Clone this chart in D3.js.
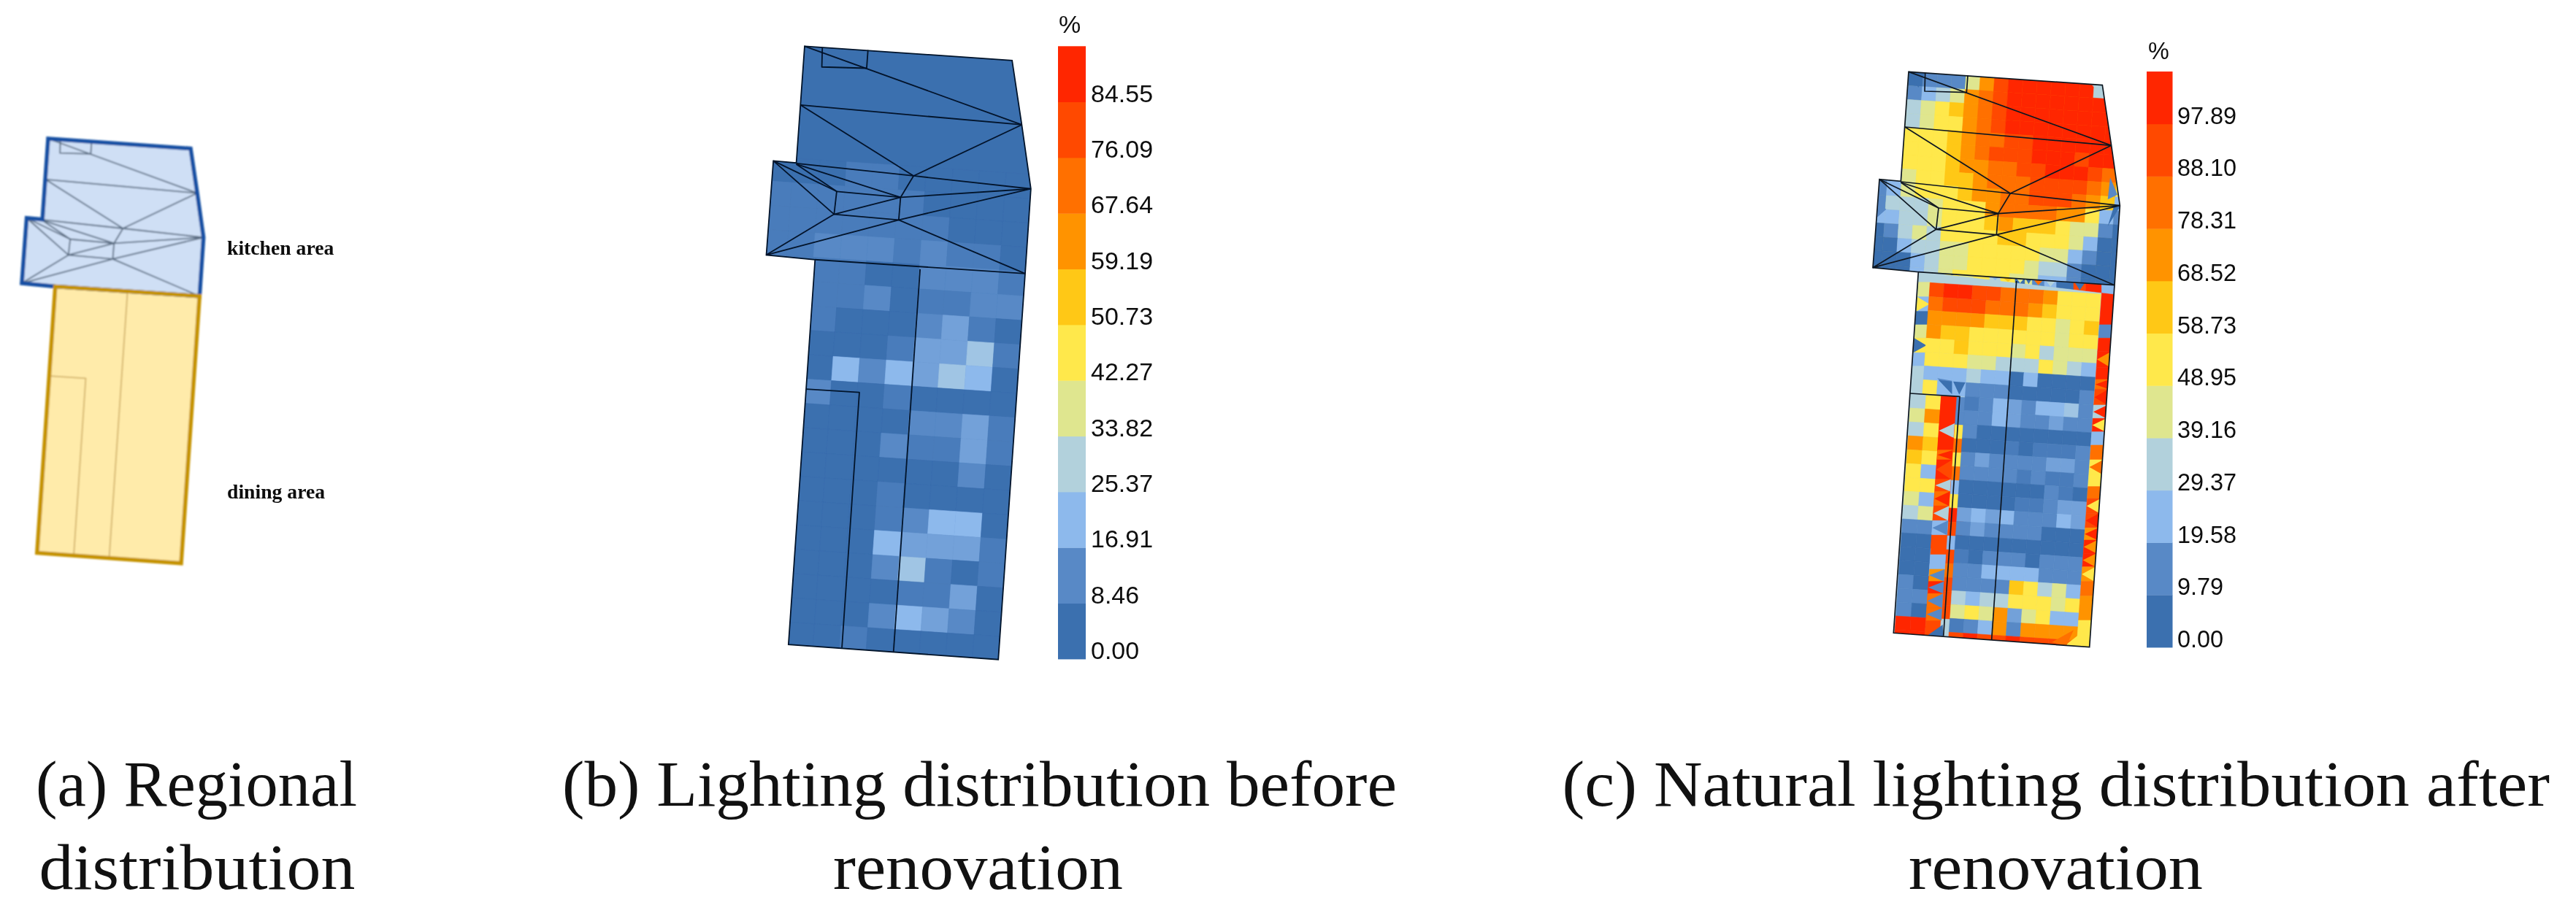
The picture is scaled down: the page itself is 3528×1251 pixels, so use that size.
<!DOCTYPE html>
<html><head><meta charset="utf-8">
<style>html,body{margin:0;padding:0;background:#fff}svg{display:block}</style>
<script src="https://cdn.jsdelivr.net/npm/d3@7/dist/d3.min.js"></script>
</head><body><svg id="c" width="3528" height="1251"></svg>
<script>
// ---- Legend data
const levelColors=["#3B6FAF","#5889C6","#8DB9EC","#B2D1DC","#DFE68F","#FFE84B","#FFC817","#FF9300","#FF6F00","#FF4800","#FF2800"];
const ticksB=["0.00","8.46","16.91","25.37","33.82","42.27","50.73","59.19","67.64","76.09","84.55"];
const ticksC=["0.00","9.79","19.58","29.37","39.16","48.95","58.73","68.52","78.31","88.10","97.89"];

// ---- Floor plan geometry, in plan units
const kitchenOutline=[[222,85],[1018,140],[1055,388],[1090,635],[1068,962],[262,908],[75,890],[102,527],[190,535]];
const diningOutline=[[262,908],[1068,962],[965,2450],[160,2392]];
const kitchenLines=[
 [[222,85],[1055,388]],[[207,312],[1055,388]],[[207,312],[640,585],[1055,388]],
 [[190,537],[640,585],[1090,635]],[[102,527],[335,733]],[[102,527],[345,645]],[[190,540],[345,645]],
 [[190,540],[590,668]],[[345,645],[590,668]],[[345,645],[335,733]],[[335,733],[590,668]],[[335,733],[583,755]],
 [[590,668],[583,755]],[[640,585],[590,668]],[[590,668],[1090,635]],[[583,755],[1090,635]],[[583,755],[1068,962]],
 [[335,733],[75,890]],[[583,755],[75,890]],
 [[290,90],[288,165],[460,170],[465,100]]
];
const diningLines=[[[665,945],[563,2420]],[[228,1407],[432,1420],[365,2405]]];

// ---- Panel c: natural lighting after renovation, level of each cell (x,y,z = half levels)
const cKitchenRows=[
"..0111479aaaaaa33.","..1234789aaaaaaaa.","..3456789aaaaaaaa.","..3455789aaaaaaaa.","..555678899aaaaaa.",
"..555678999aaa9aa.","..5556778899aaa98.","12455667888999987.","124555677889998762","133345557888877521",
"223345556766654410","013435555665554200","002334455555442100","000234455554331000","000234555544221000"];
const cDiningRows=[
"9aa998887555","899988876555","777766655456","766555555455","556555453444","555443335432","222322020000","522111000001",
"...x12y122z1","...112y11y11","...100000000","...000x0xxx1","...1y1111yy1","...1111x1xx1","...0000001x0","...0000xx1yy",
"...y2y21112y","...1y1111000","...000000000","...x01110111","...112222111","...111165342","...323355545","...4547y4522",
"...x12717777","...9a99a9998","...a9aaa9aa8"];
const cRoomRows=["35a1","47a1","35a5","76a8","6595","52a8","5592","4295","349a","1129","0092","0029","0028","10a9","1189","1089","aa93","aa93"];
// strips: [from, to, base level, triangle level]
const cRightStrip=[[960,1125,"a"],[1125,1180,"1"],[1180,1235,"a"],[1235,1300,"a","7"],[1300,1350,"a"],[1350,1390,"8","a"],[1390,1455,"9","a"],[1455,1510,"3","a"],[1510,1565,"a","5"],[1565,1620,"2"],[1620,1680,"8"],[1680,1740,"5","8"],[1740,1790,"5"],[1790,1840,"8"],[1840,1900,"9","5"],[1900,1960,"9","a"],[1960,2010,"7","a"],[2010,2065,"a","7"],[2065,2120,"a","7"],[2120,2180,"7","5"],[2180,2240,"8"],[2240,2340,"7"],[2340,2450,"5"]];
const cLeftStrip=[[950,1010,"4"],[1010,1070,"2","5"],[1070,1125,"0"],[1125,1180,"4"],[1180,1240,"5","0"],[1240,1295,"2"],[1295,1350,"3"],[1350,1410,"3"]];
const cTopStrip=[[262,320,"2","1"],[320,370,"3","1"],[370,430,"5","0"],[430,490,"4"],[490,555,"5"],[555,600,"3","2"],[600,660,"5","6"],[660,700,"0","4"],[700,730,"4","0"],[730,780,"1","8"],[780,830,"2","3"],[830,900,"0"],[900,950,"9","0"],[950,1015,"a"],[1015,1068,"2"]];
const cRoomStrip=[[1420,1530,"a"],[1530,1590,"a","3"],[1590,1640,"a"],[1640,1680,"8","a"],[1680,1760,"a","9"],[1760,1810,"9","3"],[1810,1870,"8","a"],[1870,1930,"9","3"],[1930,1990,"2","1"],[1990,2070,"9"],[2070,2130,"2"],[2130,2180,"7","1"],[2180,2230,"a","1"],[2230,2290,"8","1"],[2290,2340,"8","1"]];
const cFreeTriangles=[
 ["0",298,2403,362,2358,364,2406],["5",920,2340,968,2340,965,2450],["5",865,2443,920,2400,965,2448],["8",810,2430,900,2380,870,2445],
 ["3",975,140,1018,140,1035,190],["0",222,85,290,88,262,150],["1",340,1345,400,1355,400,1410],["0",345,1352,400,1358,400,1410],["0",405,1358,455,1362,430,1412],
 ["2",140,535,190,535,170,590],["1",85,620,130,650,85,690],["1",1050,520,1080,590,1040,610],["0",1065,640,1090,640,1040,720]
];

// ---- Panel b: lighting before renovation, shade of each cell in half levels (columns -3..6, rows -8..11)
const bRows=["0001100000","1111110000","1111111000","1122212110","1111002221","0011201122","0010002310","0000013351","0004243540","0020010000",
"0000002231","0000021131","0000000020","0000010000","0000012440","0000043331","0000025101","0000001130","0000024320","0000100000"];

const halfLevels={x:.5,y:1.5,z:2.5};
const colorAt=d3.piecewise(d3.interpolateRgb,levelColors);
const levelColor=l=>colorAt(l/10);
const parseLevel=ch=>ch==="a"?10:(ch in halfLevels?halfLevels[ch]:+ch);

const svg=d3.select("#c");
const defs=svg.append("defs");
defs.append("filter").attr("id","soft").append("feGaussianBlur").attr("stdDeviation",.55);
defs.append("filter").attr("id","softer").append("feGaussianBlur").attr("stdDeviation",.9);

function clip(id,pts,sc){
  defs.append("clipPath").attr("id",id).append("path").attr("d",sc(pts)+"Z");
}
function panelScales(xr,yr){
  const x=d3.scaleLinear().domain([0,1500]).range(xr), y=d3.scaleLinear().domain([0,1200]).range(yr);
  return {x,y,path:d3.line().x(d=>x(d[0])).y(d=>y(d[1]))};
}
function drawCells(g,rows,o,u,v,c0,r0,parse,sc){
  rows.forEach((row,ri)=>[...row].forEach((ch,ci)=>{
    if(ch===".")return;
    const c=ci+c0,r=ri+r0,p=(a,b)=>[o[0]+(c+a)*u[0]+(r+b)*v[0],o[1]+(c+a)*u[1]+(r+b)*v[1]];
    const col=levelColor(parse(ch));
    g.append("path").attr("d",sc.path([p(0,0),p(1,0),p(1,1),p(0,1)])+"Z").attr("fill",col).attr("stroke",col).attr("stroke-width",.6);
  }));
}
function drawStrip(g,segs,inner,outer,axis,sc){
  const at=(line,t)=>{const f=(t-line[0][axis])/(line[1][axis]-line[0][axis]);return [line[0][0]+f*(line[1][0]-line[0][0]),line[0][1]+f*(line[1][1]-line[0][1])];};
  segs.forEach(([t0,t1,b,tri])=>{
    const col=levelColor(parseLevel(b));
    g.append("path").attr("d",sc.path([at(inner,t0),at(inner,t1),at(outer,t1),at(outer,t0)])+"Z").attr("fill",col).attr("stroke",col).attr("stroke-width",.6);
    if(tri!==undefined){
      const tc=levelColor(parseLevel(tri));
      g.append("path").attr("d",sc.path([at(outer,t0),at(outer,t1),at(inner,(t0+t1)/2)])+"Z").attr("fill",tc);
    }
  });
}
function drawLines(g,lines,sc,color,w){
  lines.forEach(l=>g.append("path").attr("d",sc.path(l)).attr("fill","none").attr("stroke",color).attr("stroke-width",w).attr("stroke-linejoin","round"));
}
function drawLegend(ticks,x0,x1,yTop,yBot,fs,labelX,pctX,pctY){
  const y=d3.scaleLinear().domain([0,11]).range([yBot,yTop]);
  const g=svg.append("g").attr("filter","url(#soft)");
  levelColors.forEach((c,i)=>g.append("rect").attr("x",x0).attr("width",x1-x0).attr("y",y(i+1)).attr("height",y(i)-y(i+1)+.4).attr("fill",c));
  ticks.forEach((t,i)=>g.append("text").attr("x",labelX).attr("y",y(i)).attr("font-family","Liberation Sans").attr("font-size",fs).attr("fill","#111").text(t));
  g.append("text").attr("x",pctX).attr("y",pctY).attr("font-family","Liberation Sans").attr("font-size",fs).attr("fill","#111").text("%");
}

// Panel a
{
  const sc=panelScales([11.6,379.1],[169.1,464.3]);
  const g=svg.append("g").attr("filter","url(#softer)");
  g.append("path").attr("d",sc.path(kitchenOutline)+"Z").attr("fill","#CFDFF5");
  g.append("path").attr("d",sc.path(diningOutline)+"Z").attr("fill","#FFEBAA");
  drawLines(g,kitchenLines,sc,"#55677D",1.8);
  drawLines(g,diningLines,sc,"#D2B26A",1.8);
  g.append("path").attr("d",sc.path(kitchenOutline)+"Z").attr("fill","none").attr("stroke","#1450A3").attr("stroke-width",5.5);
  g.append("path").attr("d",sc.path(diningOutline)+"Z").attr("fill","none").attr("stroke","#C49200").attr("stroke-width",5.5);
  const t=svg.append("g").attr("filter","url(#soft)").attr("font-family","Liberation Serif").attr("font-weight","bold").attr("font-size",27.7).attr("fill","#111");
  t.append("text").attr("x",311).attr("y",349).text("kitchen area");
  t.append("text").attr("x",311).attr("y",683).text("dining area");
}
// Panel b
{
  const sc=panelScales([1022.75,1558.2],[33.1,459.5]);
  clip("clipB",[[222,85],[1018,140],[1055,388],[1090,635],[1068,962],[965,2450],[160,2392],[262,908],[75,890],[102,527],[190,535]],sc.path);
  const g=svg.append("g").attr("filter","url(#soft)");
  const h=g.append("g").attr("clip-path","url(#clipB)");
  h.append("rect").attr("width",3528).attr("height",1251).attr("fill",levelColors[0]);
  drawCells(h,bRows,[331.5,1281],[102,7],[-6.5,93.8],-3,-8,ch=>(+ch)/2,sc);
  drawLines(g,kitchenLines,sc,"#04122a",1.8);
  drawLines(g,diningLines,sc,"#04122a",1.8);
  drawLines(g,[[[262,908],[1068,962]]],sc,"#04122a",1.8);
  g.append("path").attr("d",sc.path([[222,85],[1018,140],[1055,388],[1090,635],[1068,962],[965,2450],[160,2392],[262,908],[75,890],[102,527],[190,535]])+"Z").attr("fill","none").attr("stroke","#04122a").attr("stroke-width",1.8);
  drawLegend(ticksB,1449,1487,63.3,903,34,1494,1450,45);
}
// Panel c
{
  const sc=panelScales([2540,3040],[70,470]);
  clip("clipCK",kitchenOutline,sc.path);
  clip("clipCD",diningOutline,sc.path);
  const u=[58.5,3.9],v=[-3.9,57];
  const g=svg.append("g").attr("filter","url(#soft)");
  const k=g.append("g").attr("clip-path","url(#clipCK)");
  k.append("rect").attr("width",3528).attr("height",1251).attr("fill",levelColors[5]);
  drawCells(k,cKitchenRows,[224,85],u,v,-2,0,parseLevel,sc);
  const d=g.append("g").attr("clip-path","url(#clipCD)");
  d.append("rect").attr("width",3528).attr("height",1251).attr("fill",levelColors[3]);
  drawCells(d,cRoomRows,[232,1410],[62,4],v,0,0,parseLevel,sc);
  drawStrip(d,cRoomStrip,[[356,1420],[290,2400]],[[418,1424],[352,2404]],1,sc);
  drawStrip(d,cLeftStrip,[[314,950],[280,1412]],[[262,950],[228,1412]],1,sc);
  drawCells(d,cDiningRows,[310,952],u,v,0,0,parseLevel,sc);
  drawStrip(d,cRightStrip,[[1015,1000],[920,2340]],[[1072,1000],[965,2450]],1,sc);
  drawStrip(d,cTopStrip,[[262,905],[1068,999]],[[262,900],[1068,955]],0,sc);
  [k,d].forEach(gr=>cFreeTriangles.forEach(t=>{
    gr.append("path").attr("d",sc.path([[t[1],t[2]],[t[3],t[4]],[t[5],t[6]]])+"Z").attr("fill",levelColor(parseLevel(t[0])));
  }));
  drawLines(g,kitchenLines,sc,"#101820",1.7);
  drawLines(g,diningLines,sc,"#101820",1.7);
  drawLines(g,[[[262,908],[1068,962]]],sc,"#101820",1.7);
  g.append("path").attr("d",sc.path([[222,85],[1018,140],[1055,388],[1090,635],[1068,962],[965,2450],[160,2392],[262,908],[75,890],[102,527],[190,535]])+"Z").attr("fill","none").attr("stroke","#101820").attr("stroke-width",1.7);
  drawLegend(ticksC,2940,2975.5,98,887,32.4,2982,2942,81);
}
// Captions
const captions=[
 ["(a) Regional",49,1104,440],["distribution",53.5,1218,433],
 ["(b) Lighting distribution before",770,1104,1143],["renovation",1141,1218,397],
 ["(c) Natural lighting distribution after",2139.5,1104,1352.5],["renovation",2614,1218,403]
];
captions.forEach(([s,x,y,w])=>svg.append("text").attr("x",x).attr("y",y).attr("font-family","Liberation Serif").attr("font-size",88.5).attr("fill","#111")
  .attr("textLength",w).attr("lengthAdjust","spacingAndGlyphs").text(s));
</script></body></html>
